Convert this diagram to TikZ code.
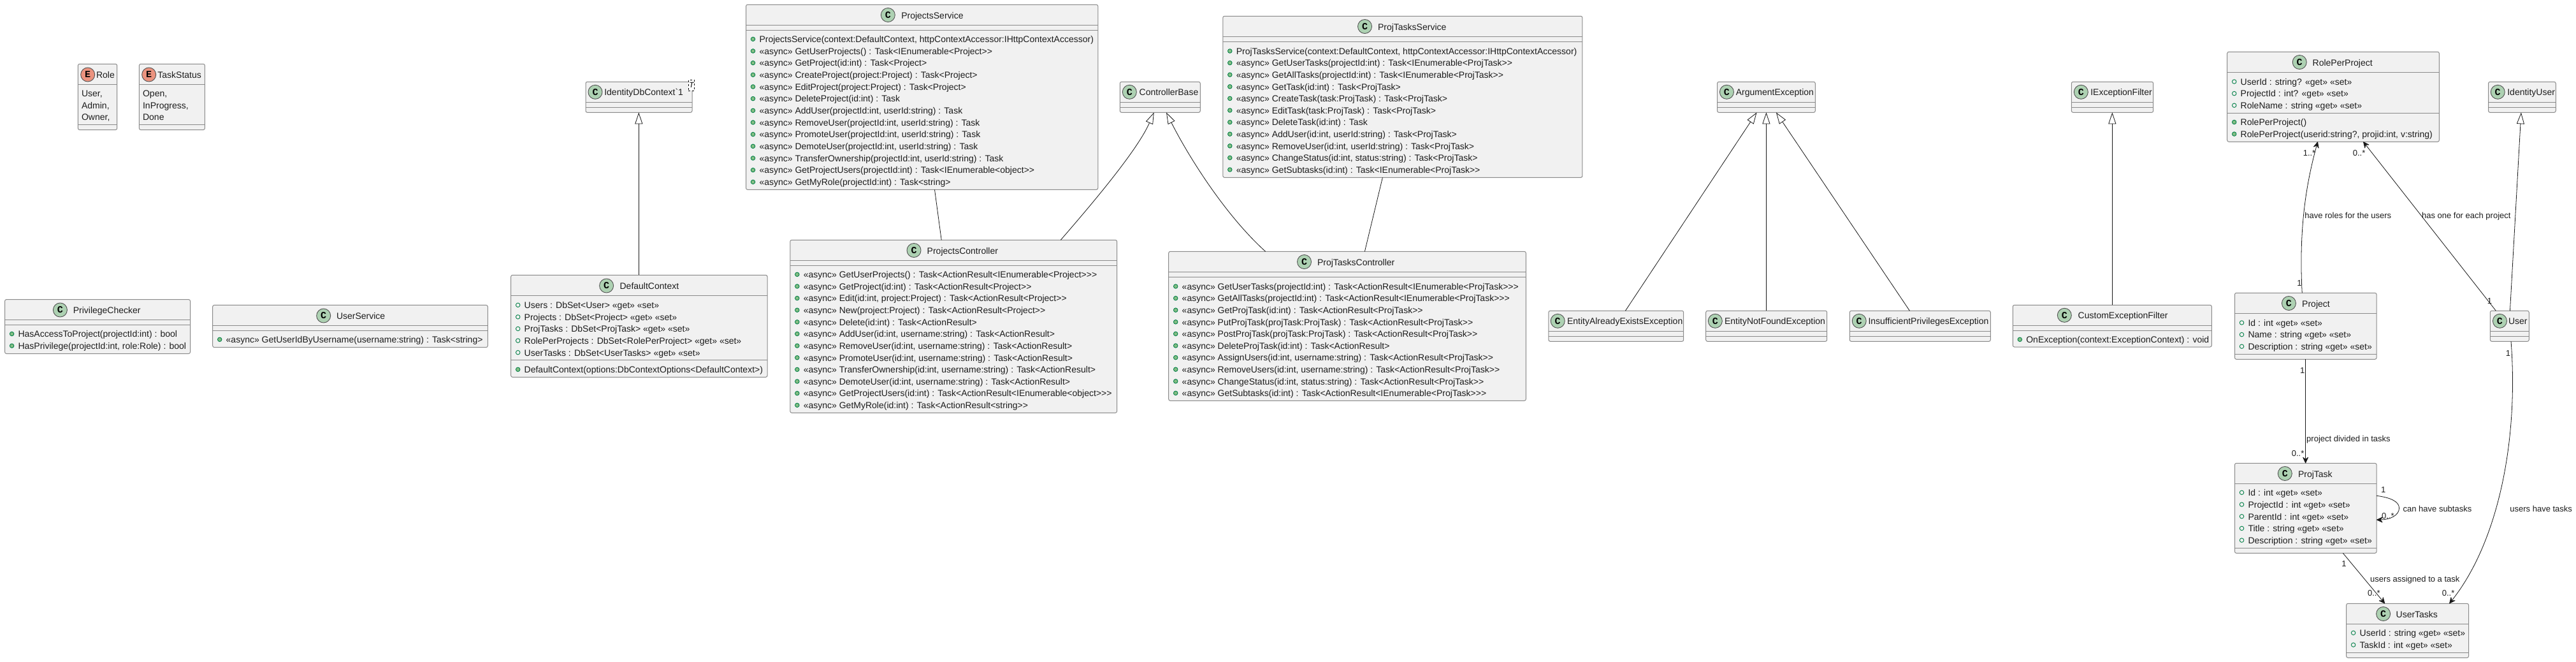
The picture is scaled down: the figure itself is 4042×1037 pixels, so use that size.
\documentclass[tikz,border=0pt]{standalone}
\usepackage{fontspec}
\usetikzlibrary{arrows.meta}
\newfontfamily\umlfont{Liberation Sans}
\newfontfamily\spotfont{Liberation Mono}
\definecolor{boxfill}{HTML}{F1F1F1}
\definecolor{boxline}{HTML}{8A8A8A}
\definecolor{spotc}{HTML}{ADD1B2}
\definecolor{spote}{HTML}{EB937F}
\definecolor{inkline}{HTML}{181818}
\definecolor{fieldline}{HTML}{038048}
\definecolor{methodfill}{HTML}{84BE84}
\definecolor{inktext}{HTML}{1C1C1C}
\newcounter{uc}
\tikzset{
  umlbox/.style={draw=boxline,fill=boxfill,line width=1pt,rounded corners=2.5pt,anchor=north west,inner sep=0pt,outer sep=0pt},
  umlrule/.style={draw=boxline,line width=1pt},
  utext/.style={anchor=base west,inner sep=0pt,outer sep=0pt,text=inktext,font=\umlfont\fontsize{14}{16}\selectfont},
  ulabel/.style={inner sep=0pt,outer sep=0pt,text=inktext,font=\umlfont\fontsize{13}{15}\selectfont},
  spot/.style={circle,draw=inkline!75,line width=.9pt,minimum size=22pt,inner sep=0pt,font=\spotfont\bfseries\fontsize{15}{15}\selectfont},
  fieldicon/.style={circle,draw=fieldline,line width=.9pt,minimum size=6.5pt,inner sep=0pt},
  methodicon/.style={circle,draw=fieldline,fill=methodfill,line width=.9pt,minimum size=6.5pt,inner sep=0pt},
  conn/.style={draw=inkline,line width=.8pt},
  inherit/.style={conn,-{Triangle[open,length=18pt,width=12pt,fill=white]}},
  assoc/.style={conn,-{Stealth[length=11pt,width=10pt,inset=4pt,round]}},
  tparam/.style={draw=black,dashed,line width=.7pt,fill=white,inner sep=0pt,minimum width=9.4pt,minimum height=17pt,font=\umlfont\itshape\fontsize{12}{12}\selectfont}
}
% box: name x1 y1 x2 y2 div1 div2
\newcommand\ubox[7]{%
  \pgfmathsetmacro\bw{#4-#2}\pgfmathsetmacro\bh{#5-#3}%
  \node[umlbox,minimum width=\bw pt,minimum height=\bh pt] (#1) at (#2,#3) {};
  \draw[umlrule] (#2,#6) -- (#4,#6);
  \draw[umlrule] (#2,#7) -- (#4,#7);
  \xdef\bleft{#2}%
}
% title: letter spotcolor cx cy textx text
\newcommand\utitle[6]{%
  \stepcounter{uc}%
  \node[spot,fill=#2] (s\theuc) at (#3,#4) {#1};
  \pgfmathsetmacro\tb{#4+5.5}%
  \node[utext] (t\theuc) at (#5,\tb) {#6};
}
\newcommand\setrows[2]{\xdef\ry{#1}\xdef\rs{#2}}
\newcommand\adv{\pgfmathparse{\ry+\rs}\xdef\ry{\pgfmathresult}}
\newcommand\uf[1]{%
  \stepcounter{uc}%
  \pgfmathsetmacro\ix{\bleft+11}\pgfmathsetmacro\tx{\bleft+21}\pgfmathsetmacro\tb{\ry+5.3}%
  \node[fieldicon] (i\theuc) at (\ix,\ry) {};
  \node[utext] (r\theuc) at (\tx,\tb) {#1};
  \adv}
\newcommand\um[1]{%
  \stepcounter{uc}%
  \pgfmathsetmacro\ix{\bleft+11}\pgfmathsetmacro\tx{\bleft+21}\pgfmathsetmacro\tb{\ry+5.3}%
  \node[methodicon] (i\theuc) at (\ix,\ry) {};
  \node[utext] (r\theuc) at (\tx,\tb) {#1};
  \adv}
\newcommand\ue[1]{%
  \stepcounter{uc}%
  \pgfmathsetmacro\tx{\bleft+5.7}\pgfmathsetmacro\tb{\ry+5.3}%
  \node[utext] (r\theuc) at (\tx,\tb) {#1};
  \adv}
% edge label: anchor x ycenter text
\newcommand\ulab[4]{%
  \stepcounter{uc}%
  \pgfmathsetmacro\tb{#3+4.7}%
  \node[ulabel,anchor=#1] (l\theuc) at (#2,\tb) {#4};
}
\begin{document}
\begin{tikzpicture}[x=1pt,y=-1pt]
\fill[white] (0,0) rectangle (4042,1037);
\useasboundingbox (0,0) rectangle (4042,1037);

% Enums
\ubox{role}{122.4}{100.3}{183.7}{203.6}{132.8}{195.6}
\utitle{E}{spote}{137.7}{117}{151}{Role}
\setrows{146.2}{18.6}\ue{User,}\ue{Admin,}\ue{Owner,}

\ubox{taskstatus}{218.4}{100.3}{321.4}{203.6}{132.8}{195.6}
\utitle{E}{spote}{233.7}{117}{247.4}{TaskStatus}
\setrows{146.2}{18.6}\ue{Open,}\ue{InProgress,}\ue{Done}

% Helpers
\ubox{privilege}{7.6}{469.6}{298.5}{554.5}{501.3}{509.8}
\utitle{C}{spotc}{94.4}{486}{114.8}{PrivilegeChecker}
\setrows{523.5}{18.7}
\um{HasAccessToProject(projectId:int) : bool}
\um{HasPrivilege(projectId:int, role:Role) : bool}

\ubox{userservice}{333.7}{478.4}{765.3}{544.6}{510.5}{518.6}
\utitle{C}{spotc}{507.7}{495}{528}{UserService}
\setrows{532.3}{18.7}
\um{«async» GetUserIdByUsername(username:string) : Task<string>}

% Db context
\ubox{identitydb}{919}{128.3}{1086}{176.3}{160.3}{168.3}
\utitle{C}{spotc}{934}{144.3}{948.3}{IdentityDbContext`1}
\node[tparam] (tparamT) at (1085,133.8) {T};

\ubox{defaultctx}{801.7}{431.3}{1204}{591.3}{463.3}{564.3}
\utitle{C}{spotc}{951.6}{448}{972.6}{DefaultContext}
\setrows{478.3}{18.6}
\uf{Users : DbSet<User> «get» «set»}
\uf{Projects : DbSet<Project> «get» «set»}
\uf{ProjTasks : DbSet<ProjTask> «get» «set»}
\uf{RolePerProjects : DbSet<RolePerProject> «get» «set»}
\uf{UserTasks : DbSet<UserTasks> «get» «set»}
\setrows{579.3}{18.6}
\um{DefaultContext(options:DbContextOptions<DefaultContext>)}

% Projects service
\ubox{projsvc}{1170.5}{7.3}{1722.8}{297.3}{39.3}{47.7}
\utitle{C}{spotc}{1393.3}{23.5}{1414.3}{ProjectsService}
\setrows{61.3}{18.667}
\um{ProjectsService(context:DefaultContext, httpContextAccessor:IHttpContextAccessor)}
\um{«async» GetUserProjects() : Task<IEnumerable<Project>>}
\um{«async» GetProject(id:int) : Task<Project>}
\um{«async» CreateProject(project:Project) : Task<Project>}
\um{«async» EditProject(project:Project) : Task<Project>}
\um{«async» DeleteProject(id:int) : Task}
\um{«async» AddUser(projectId:int, userId:string) : Task}
\um{«async» RemoveUser(projectId:int, userId:string) : Task}
\um{«async» PromoteUser(projectId:int, userId:string) : Task}
\um{«async» DemoteUser(projectId:int, userId:string) : Task}
\um{«async» TransferOwnership(projectId:int, userId:string) : Task}
\um{«async» GetProjectUsers(projectId:int) : Task<IEnumerable<object>>}
\um{«async» GetMyRole(projectId:int) : Task<string>}

% Projects controller
\ubox{projctl}{1239.8}{376.3}{1752.6}{647.3}{408.3}{416.3}
\utitle{C}{spotc}{1434}{392.5}{1454.7}{ProjectsController}
\setrows{430.3}{18.636}
\um{«async» GetUserProjects() : Task<ActionResult<IEnumerable<Project>>>}
\um{«async» GetProject(id:int) : Task<ActionResult<Project>>}
\um{«async» Edit(id:int, project:Project) : Task<ActionResult<Project>>}
\um{«async» New(project:Project) : Task<ActionResult<Project>>}
\um{«async» Delete(id:int) : Task<ActionResult>}
\um{«async» AddUser(id:int, username:string) : Task<ActionResult>}
\um{«async» RemoveUser(id:int, username:string) : Task<ActionResult>}
\um{«async» PromoteUser(id:int, username:string) : Task<ActionResult>}
\um{«async» TransferOwnership(id:int, username:string) : Task<ActionResult>}
\um{«async» DemoteUser(id:int, username:string) : Task<ActionResult>}
\um{«async» GetProjectUsers(id:int) : Task<ActionResult<IEnumerable<object>>>}
\um{«async» GetMyRole(id:int) : Task<ActionResult<string>>}

% Controller base
\ubox{ctlbase}{1757.3}{128.3}{1883.3}{176.3}{160.3}{168.3}
\utitle{C}{spotc}{1772.3}{144.3}{1787.7}{ControllerBase}

% Tasks service
\ubox{tasksvc}{1918.8}{25.3}{2482.9}{278.3}{57.3}{65.3}
\utitle{C}{spotc}{2141.5}{41.5}{2162}{ProjTasksService}
\setrows{80}{18.6}
\um{ProjTasksService(context:DefaultContext, httpContextAccessor:IHttpContextAccessor)}
\um{«async» GetUserTasks(projectId:int) : Task<IEnumerable<ProjTask>>}
\um{«async» GetAllTasks(projectId:int) : Task<IEnumerable<ProjTask>>}
\um{«async» GetTask(id:int) : Task<ProjTask>}
\um{«async» CreateTask(task:ProjTask) : Task<ProjTask>}
\um{«async» EditTask(task:ProjTask) : Task<ProjTask>}
\um{«async» DeleteTask(id:int) : Task}
\um{«async» AddUser(id:int, userId:string) : Task<ProjTask>}
\um{«async» RemoveUser(id:int, userId:string) : Task<ProjTask>}
\um{«async» ChangeStatus(id:int, status:string) : Task<ProjTask>}
\um{«async» GetSubtasks(id:int) : Task<IEnumerable<ProjTask>>}

% Tasks controller
\ubox{taskctl}{1833.7}{394.3}{2394.3}{628.3}{426.3}{434.3}
\utitle{C}{spotc}{2046.5}{410.5}{2067}{ProjTasksController}
\setrows{449}{18.6}
\um{«async» GetUserTasks(projectId:int) : Task<ActionResult<IEnumerable<ProjTask>>>}
\um{«async» GetAllTasks(projectId:int) : Task<ActionResult<IEnumerable<ProjTask>>>}
\um{«async» GetProjTask(id:int) : Task<ActionResult<ProjTask>>}
\um{«async» PutProjTask(projTask:ProjTask) : Task<ActionResult<ProjTask>>}
\um{«async» PostProjTask(projTask:ProjTask) : Task<ActionResult<ProjTask>>}
\um{«async» DeleteProjTask(id:int) : Task<ActionResult>}
\um{«async» AssignUsers(id:int, username:string) : Task<ActionResult<ProjTask>>}
\um{«async» RemoveUsers(id:int, username:string) : Task<ActionResult<ProjTask>>}
\um{«async» ChangeStatus(id:int, status:string) : Task<ActionResult<ProjTask>>}
\um{«async» GetSubtasks(id:int) : Task<ActionResult<IEnumerable<ProjTask>>>}

% Exceptions
\ubox{argex}{2694.5}{128.3}{2848.3}{176.3}{160.3}{168.3}
\utitle{C}{spotc}{2709.4}{144.3}{2723.8}{ArgumentException}
\ubox{existsex}{2429.9}{487.3}{2641.7}{535.3}{519.3}{527.3}
\utitle{C}{spotc}{2444.2}{503.3}{2459}{EntityAlreadyExistsException}
\ubox{notfoundex}{2676.7}{487.3}{2866.7}{535.3}{519.3}{527.3}
\utitle{C}{spotc}{2691.3}{503.3}{2706}{EntityNotFoundException}
\ubox{privex}{2902.3}{487.3}{3123.3}{535.3}{519.3}{527.3}
\utitle{C}{spotc}{2917.2}{503.3}{2931.5}{InsufficientPrivilegesException}

\ubox{iexfilter}{3250.3}{128.3}{3378.7}{176.3}{160.3}{168.3}
\utitle{C}{spotc}{3265.3}{144.3}{3280.3}{IExceptionFilter}
\ubox{customex}{3158.3}{478.3}{3470.3}{544}{510.3}{518.3}
\utitle{C}{spotc}{3239.3}{494.3}{3260.7}{CustomExceptionFilter}
\setrows{532.3}{18.6}
\um{OnException(context:ExceptionContext) : void}

% Model
\ubox{rpp}{3494.7}{81.3}{3827.3}{222.3}{113.3}{177.3}
\utitle{C}{spotc}{3608.2}{97.5}{3628.6}{RolePerProject}
\setrows{128}{18.6}
\uf{UserId : string? «get» «set»}
\uf{ProjectId : int? «get» «set»}
\uf{RoleName : string «get» «set»}
\setrows{191.5}{18.6}
\um{RolePerProject()}
\um{RolePerProject(userid:string?, projid:int, v:string)}

\ubox{identityuser}{3904.5}{128.3}{4010.2}{176.3}{160.3}{168.3}
\utitle{C}{spotc}{3919.2}{144.3}{3934.3}{IdentityUser}
\ubox{user}{3907.3}{487.3}{3968.2}{535.3}{519.3}{527.3}
\utitle{C}{spotc}{3922.4}{503.3}{3936}{User}

\ubox{project}{3506.5}{459.3}{3729}{563.3}{491.7}{555.3}
\utitle{C}{spotc}{3591.4}{475.5}{3612.2}{Project}
\setrows{506}{18.6}
\uf{Id : int «get» «set»}
\uf{Name : string «get» «set»}
\uf{Description : string «get» «set»}

\ubox{projtask}{3506.5}{726.3}{3729}{867.3}{758.7}{859.3}
\utitle{C}{spotc}{3585.3}{742.5}{3606}{ProjTask}
\setrows{772.3}{18.7}
\uf{Id : int «get» «set»}
\uf{ProjectId : int «get» «set»}
\uf{ParentId : int «get» «set»}
\uf{Title : string «get» «set»}
\uf{Description : string «get» «set»}

\ubox{usertasks}{3681.6}{946.3}{3873.5}{1031.3}{978.3}{1023.3}
\utitle{C}{spotc}{3739.6}{962.5}{3759.6}{UserTasks}
\setrows{992.3}{18.8}
\uf{UserId : string «get» «set»}
\uf{TaskId : int «get» «set»}

% Inheritance
\draw[inherit] ([xshift=200.6pt]defaultctx.north west) -- ([xshift=83.3pt]identitydb.south west);
\draw[inherit] ([xshift=424.5pt]projctl.north west) .. controls (1715,318) and (1785,235) .. ([xshift=53.4pt]ctlbase.south west);
\draw[inherit] ([xshift=151.9pt]taskctl.north west) .. controls (1920,335) and (1862,240) .. ([xshift=72.7pt]ctlbase.south west);
\draw[inherit] ([xshift=120.5pt]existsex.north west) -- ([xshift=62pt]argex.south west);
\draw[inherit] ([xshift=94.7pt]notfoundex.north west) -- ([xshift=76.9pt]argex.south west);
\draw[inherit] ([xshift=94.1pt]privex.north west) -- ([xshift=92.4pt]argex.south west);
\draw[inherit] ([xshift=156pt]customex.north west) -- ([xshift=64pt]iexfilter.south west);
\draw[inherit] ([xshift=31.1pt]user.north west) -- ([xshift=51.4pt]identityuser.south west);

% Plain associations
\draw[conn] ([xshift=296pt]projsvc.south west) -- ([xshift=237.4pt]projctl.north west);
\draw[conn] ([xshift=250.6pt]tasksvc.south west) -- ([xshift=307.7pt]taskctl.north west);

% Directed associations
\draw[assoc] ([xshift=105.7pt]project.north west) .. controls (3607,360) and (3618,290) .. ([xshift=142pt]rpp.south west);
\draw[assoc] ([xshift=9pt]user.north west) -- ([xshift=213.5pt]rpp.south west);
\draw[assoc] ([xshift=111.1pt]project.south west) -- ([xshift=111.1pt]projtask.north west);
\draw[assoc] ([xshift=169.8pt]projtask.south west) -- ([xshift=60.4pt]usertasks.north west);
\draw[assoc] ([xshift=32.7pt]user.south west) .. controls (3952,690) and (3920,850) .. ([xshift=161.7pt]usertasks.north west);
\draw[assoc] ([yshift=-51pt]projtask.north east) .. controls (3750,780) and (3764.5,786) .. (3764.5,796.7) .. controls (3764.5,808) and (3750,815) .. ([yshift=-88.7pt]projtask.north east);

% Edge labels
\ulab{base}{3623.5}{240}{1..*}
\ulab{base}{3608}{443.7}{1}
\ulab{base west}{3616.3}{337.7}{have roles for the users}
\ulab{base}{3701.6}{240}{0..*}
\ulab{base}{3906.5}{471.7}{1}
\ulab{base west}{3800}{337.7}{has one for each project}
\ulab{base}{3612.7}{580.7}{1}
\ulab{base west}{3619.2}{687.7}{project divided in tasks}
\ulab{base}{3605.6}{710.3}{0..*}
\ulab{base}{3739.6}{767.3}{1}
\ulab{base}{3746.8}{808.7}{0..*}
\ulab{base west}{3770.6}{797.7}{can have subtasks}
\ulab{base}{3678}{884}{1}
\ulab{base west}{3719.2}{907.7}{users assigned to a task}
\ulab{base}{3724.8}{930}{0..*}
\ulab{base}{3935.5}{553.7}{1}
\ulab{base west}{3938.4}{797.7}{users have tasks}
\ulab{base}{3841.6}{930}{0..*}
\end{tikzpicture}
\end{document}
